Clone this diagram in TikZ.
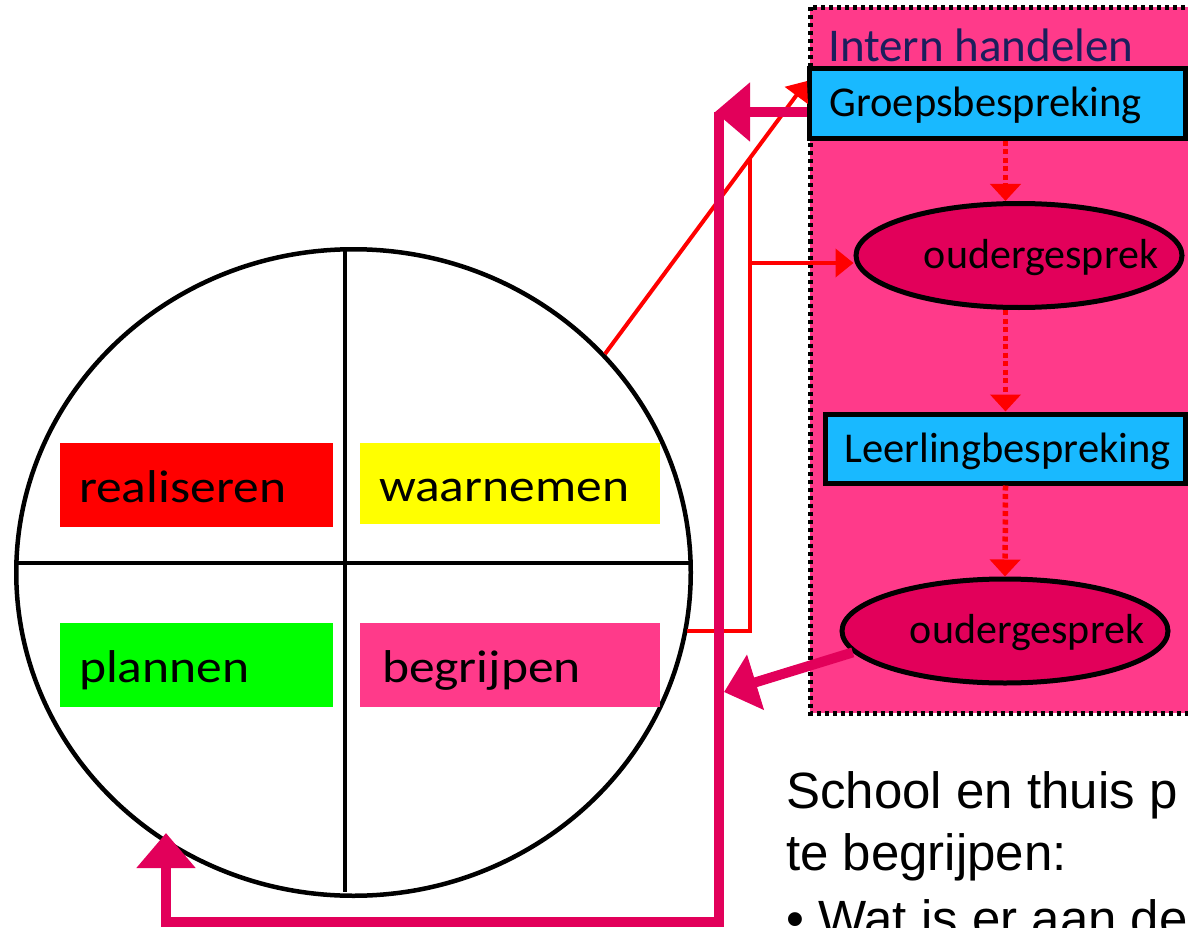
\documentclass[tikz,border=0pt]{standalone}
\usepackage{fontspec}
\usepackage{graphicx}
\setmainfont{Carlito}
\newfontfamily\arialfont{Liberation Sans}
\usetikzlibrary{arrows.meta,shapes.geometric}
\definecolor{rood}{HTML}{FF0000}
\definecolor{geel}{HTML}{FFFF00}
\definecolor{groen}{HTML}{00FF00}
\definecolor{roze}{HTML}{FF3A8A}
\definecolor{karmijn}{HTML}{E2005A}
\definecolor{lichtblauw}{HTML}{19B9FF}
\definecolor{donkerblauw}{HTML}{1C1E5C}
\newcommand{\breed}[1]{\scalebox{1.12}[1]{#1}}

\begin{document}
\begin{tikzpicture}[x=1pt, y=-1pt,
  vak/.style={minimum height=84pt, inner ysep=0pt, text height=35pt, text depth=0pt, font=\fontsize{46}{55}\selectfont},
  blok/.style={draw=black, line width=5pt, fill=lichtblauw, inner ysep=0pt, text height=30pt, text depth=3pt, font=\fontsize{42.5}{50}\selectfont},
  ovaal/.style={ellipse, draw=black, line width=5pt, fill=karmijn, minimum width=326pt, minimum height=104pt, inner sep=0pt, text height=31pt, text depth=6pt, font=\fontsize{42}{50}\selectfont},
  stip/.style={draw=rood, line width=5.5pt, dash pattern=on 5pt off 3.5pt, -{Triangle[width=30pt,length=17pt]}},
  rode lijn/.style={draw=rood, line width=4pt},
  rode pijl/.style={rode lijn, -{Triangle[width=28pt,length=18pt]}},
  dikke pijl/.style={draw=karmijn, line width=10pt, -{Triangle[width=57pt,length=35pt]}},
  tekst/.style={anchor=base west, inner sep=0pt, font=\arialfont\fontsize{51}{62}\selectfont}]
  \useasboundingbox (0,0) rectangle (1188,928);
  \clip (0,0) rectangle (1188,928);

  \fill[roze] (810,7.5) rectangle (1240,713);
  \draw[line width=5pt, dash pattern=on 4pt off 4pt] (810,7.5) rectangle (1240,713);
  \node[anchor=base west, inner sep=0pt, text=donkerblauw, font=\fontsize{47}{56}\selectfont] (intern) at (828,62) {Intern handelen};

  \node[blok, minimum width=376pt, minimum height=70pt, inner xsep=20pt] (gb) at (997.5,103.5) {\makebox[336pt][l]{Groepsbespreking}};
  \node[ovaal] (oud1) at (1019,255.5) {\makebox[44pt][r]{\makebox[0pt]{oudergesprek}}};
  \node[blok, minimum width=360pt, minimum height=69pt, inner xsep=19pt] (lb) at (1005.5,448.5) {\makebox[322pt][l]{Leerlingbespreking}};
  \node[ovaal] (oud2) at (1005,631) {\makebox[44pt][r]{\makebox[0pt]{oudergesprek}}};

  \draw[stip] (gb.south -| lb.center) -- (lb.center |- oud1.north);
  \draw[stip] (lb.center |- oud1.south) -- (lb.north);
  \draw[stip] (lb.south) -- (oud2.north);

  \node[ellipse, draw=black, line width=4.5pt, minimum width=674.5pt, minimum height=646.5pt] (cirkel) at (353.5,572.5) {};
  \draw[line width=4pt] (345,250) -- (345,892);
  \draw[line width=4pt] (15,563) -- (692,563);

  \node[vak, fill=rood, inner xsep=19pt] (real) at (196.5,485) {\makebox[235pt][l]{\breed{realiseren}}};
  \node[vak, fill=geel, minimum height=81pt, inner xsep=19pt] (waar) at (510,483.5) {\makebox[262pt][l]{\breed{waarnemen}}};
  \node[vak, fill=groen, inner xsep=19pt] (plan) at (196.5,665) {\makebox[235pt][l]{\breed{plannen}}};
  \node[vak, fill=roze, inner xsep=22pt] (begr) at (510,665) {\makebox[256pt][l]{\breed{begrijpen}}};

  \draw[rode pijl] (cirkel.41.7) -- coordinate[pos=.72] (knik) ([yshift=-15pt]gb.north west);
  \draw[rode lijn] (cirkel.-10.9) -| (knik);
  \coordinate (tak) at (knik |- 0,263);
  \draw[rode pijl] (tak) -- (tak -| oud1.west);

  \coordinate (boven) at (719,112);
  \coordinate (onder) at (719,922);
  \coordinate (links) at (166,922);
  \coordinate (doel) at (166,833);
  \coordinate (inslag) at (724,692);
  \draw[dikke pijl] (gb.west |- boven) -- ([xshift=-4pt]boven);
  \draw[dikke pijl] (boven) -- (onder) -- (links) -- (doel);
  \draw[dikke pijl, -{Triangle[width=56pt,length=33pt]}] (oud2.188) -- (inslag);

  \node[tekst] (regel1) at (786,808) {School en thuis p};
  \node[tekst] (regel2) at (786,870) {te begrijpen:};
  \node[tekst] (regel3) at (786,936) {• Wat is er aan de};
\end{tikzpicture}
\end{document}
